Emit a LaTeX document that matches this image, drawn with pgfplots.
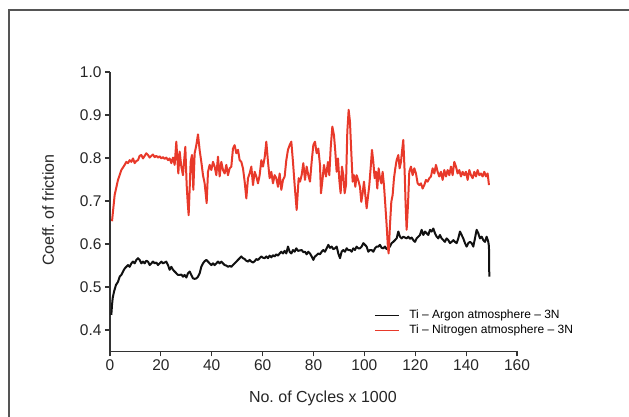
\documentclass[border=0pt]{standalone}
\usepackage{fontspec}
\setmainfont{Liberation Sans}
\usepackage{pgfplots}
\pgfplotsset{compat=1.18}
\definecolor{cAr}{HTML}{111111}
\definecolor{cN}{HTML}{E8392A}
\definecolor{cAx}{HTML}{333333}
\definecolor{cFrame}{HTML}{555555}

\begin{document}
\begin{tikzpicture}[x=1pt,y=1pt]
\useasboundingbox (0,0) rectangle (629,417);
\draw[cFrame, line width=1.5pt] (9,0) -- (9,407) -- (629,407);
\begin{axis}[at={(110pt,65.5pt)}, anchor=south west, scale only axis,
    width=407pt, height=279.5pt,
    xmin=0, xmax=160, ymin=0.35, ymax=1.0,
    axis x line=bottom, axis y line=left,
    axis line style={cAx, line width=1.1pt, -},
    xtick={0,20,40,60,80,100,120,140,160},
    ytick={0.4,0.5,0.6,0.7,0.8,0.9,1.0},
    tick align=outside, major tick length=5pt,
    tick style={cAx, line width=1.1pt},
    tick label style={font=\fontsize{15.5}{18}\selectfont, text=black!85},
    /pgf/number format/assume math mode=true,
    yticklabel style={/pgf/number format/.cd, fixed, fixed zerofill, precision=1},
    xlabel={No.\ of Cycles x 1000}, ylabel={Coeff.\ of friction},
    label style={font=\fontsize{16}{19}\selectfont, text=black!85},
    xlabel style={at={(axis description cs:0.523,-0.166)}, anchor=center},
    ylabel style={at={(axis description cs:-0.152,0.506)}, anchor=center},
    legend style={at={(axis description cs:0.649,0.152)}, anchor=north west,
        draw=none, fill=none, font=\fontsize{12}{14}\selectfont, inner sep=0pt,
        row sep=3pt, nodes={inner ysep=0pt, inner xsep=0pt, text height=9pt, text depth=3pt},
        /tikz/every odd column/.append style={column sep=10pt}},
    legend cell align=left,
    legend image code/.code={\draw[#1, line width=1pt] (0pt,0pt) -- (24pt,0pt);},
]
% Ti - Argon
\addplot[cAr, line width=2pt, line join=round] coordinates {
(0.52,0.435)(0.79,0.458)(1.05,0.474)(1.57,0.489)(2.36,0.505)(3.14,0.512)(3.80,0.524)(4.46,0.528)
(5.11,0.536)(5.77,0.543)(6.42,0.547)(7.08,0.551)(7.73,0.547)(8.39,0.555)(9.04,0.559)(9.70,0.555)
(10.35,0.563)(11.01,0.567)(11.66,0.563)(12.32,0.555)(12.97,0.559)(13.63,0.555)(14.28,0.561)(14.94,0.559)
(15.59,0.551)(16.25,0.555)(16.90,0.559)(17.56,0.555)(18.21,0.557)(18.87,0.551)(19.52,0.555)(20.18,0.559)
(20.83,0.555)(21.49,0.557)(22.14,0.559)(22.80,0.551)(23.45,0.540)(24.11,0.547)(24.76,0.540)(25.42,0.536)
(26.07,0.532)(26.73,0.528)(27.38,0.528)(28.04,0.529)(28.69,0.524)(29.35,0.528)(30.01,0.522)(30.66,0.532)
(31.32,0.536)(31.97,0.528)(32.63,0.520)(33.28,0.519)(33.94,0.520)(34.59,0.524)(35.25,0.532)(35.90,0.547)
(36.56,0.555)(37.21,0.560)(37.87,0.563)(38.52,0.559)(39.18,0.555)(39.83,0.551)(40.49,0.555)(41.14,0.551)
(41.80,0.555)(42.45,0.559)(43.11,0.555)(43.76,0.559)(44.42,0.555)(45.07,0.551)(45.73,0.550)(46.38,0.547)
(47.04,0.549)(47.69,0.547)(48.35,0.551)(49.00,0.555)(49.66,0.559)(50.31,0.563)(50.97,0.567)(51.62,0.571)
(52.28,0.567)(52.94,0.565)(53.59,0.561)(54.25,0.559)(54.90,0.563)(55.56,0.559)(56.21,0.557)(56.87,0.560)
(57.52,0.565)(58.18,0.563)(58.83,0.567)(59.49,0.571)(60.14,0.568)(60.80,0.567)(61.45,0.571)(62.11,0.567)
(62.76,0.573)(63.42,0.569)(64.07,0.574)(64.73,0.571)(65.38,0.576)(66.04,0.573)(66.69,0.578)(67.35,0.582)
(68.00,0.578)(68.66,0.584)(69.31,0.578)(69.97,0.594)(70.62,0.582)(71.28,0.578)(71.93,0.586)(72.59,0.582)
(73.24,0.590)(73.90,0.584)(75.34,0.586)(76.00,0.581)(76.65,0.582)(77.31,0.576)(77.96,0.582)(78.62,0.578)
(79.27,0.571)(79.93,0.563)(80.58,0.571)(81.24,0.574)(81.89,0.578)(82.55,0.576)(83.21,0.582)(83.86,0.586)
(84.52,0.582)(85.17,0.590)(85.83,0.598)(86.48,0.591)(87.14,0.594)(87.79,0.588)(88.45,0.590)(89.10,0.594)
(89.76,0.578)(90.41,0.567)(91.07,0.582)(91.72,0.586)(92.38,0.582)(93.03,0.590)(93.69,0.586)(94.34,0.586)
(95.00,0.582)(95.65,0.590)(96.31,0.586)(96.96,0.594)(97.62,0.590)(98.27,0.590)(98.93,0.594)(99.58,0.602)
(100.24,0.598)(100.89,0.594)(101.55,0.582)(102.20,0.586)(102.86,0.586)(103.51,0.582)(104.17,0.590)(104.82,0.594)
(105.48,0.594)(106.13,0.598)(106.79,0.591)(107.44,0.590)(108.10,0.594)(108.75,0.588)(109.41,0.590)(110.06,0.594)
(110.72,0.602)(111.37,0.605)(112.03,0.609)(112.68,0.613)(113.34,0.629)(113.99,0.617)(114.65,0.613)(115.30,0.617)
(115.96,0.615)(116.61,0.613)(117.27,0.617)(117.92,0.612)(118.58,0.615)(119.23,0.609)(119.89,0.605)(120.55,0.613)
(121.20,0.617)(121.86,0.621)(122.51,0.633)(123.17,0.621)(123.82,0.629)(124.48,0.625)(125.13,0.621)(125.79,0.633)
(126.44,0.629)(127.10,0.636)(127.75,0.625)(128.41,0.617)(129.06,0.613)(129.72,0.621)(130.37,0.613)(131.03,0.609)
(131.68,0.605)(132.34,0.613)(132.99,0.609)(133.65,0.602)(134.30,0.605)(134.96,0.609)(135.61,0.605)(136.27,0.602)
(136.92,0.613)(137.58,0.629)(138.23,0.621)(138.89,0.613)(139.54,0.602)(140.20,0.594)(140.85,0.602)(141.51,0.605)
(142.16,0.602)(142.82,0.594)(143.47,0.613)(144.13,0.633)(144.78,0.625)(145.44,0.613)(146.10,0.617)(146.75,0.609)
(147.41,0.605)(148.06,0.617)(148.72,0.605)(148.98,0.594)(149.11,0.524)
};
\addlegendentry{Ti – Argon atmosphere – 3N}
% Ti - Nitrogen
\addplot[cN, line width=2pt, line join=round] coordinates {
(0.79,0.653)(1.83,0.714)(3.14,0.749)(4.46,0.772)(5.77,0.784)(6.42,0.791)(7.08,0.788)(7.73,0.795)
(8.39,0.791)(9.04,0.799)(9.70,0.788)(10.35,0.793)(11.01,0.795)(11.66,0.805)(12.32,0.807)(12.97,0.799)
(13.63,0.805)(14.28,0.811)(14.94,0.807)(15.59,0.801)(16.25,0.805)(16.90,0.808)(17.56,0.802)(18.21,0.805)
(18.87,0.801)(19.52,0.804)(20.18,0.799)(20.83,0.802)(21.49,0.798)(22.14,0.801)(22.80,0.795)(23.45,0.799)
(24.11,0.788)(24.76,0.801)(25.42,0.784)(26.07,0.838)(26.47,0.799)(26.86,0.764)(27.38,0.815)(28.04,0.780)
(28.69,0.760)(29.22,0.799)(29.61,0.826)(30.14,0.737)(30.53,0.698)(30.92,0.667)(31.32,0.729)(31.71,0.791)
(32.23,0.807)(32.76,0.726)(33.28,0.811)(33.94,0.830)(34.59,0.855)(35.25,0.818)(35.90,0.791)(36.56,0.760)
(37.21,0.741)(38.00,0.695)(38.52,0.768)(39.18,0.784)(39.83,0.772)(40.49,0.791)(41.14,0.780)(41.80,0.760)
(42.45,0.803)(43.11,0.757)(43.76,0.791)(44.42,0.772)(45.07,0.764)(45.73,0.784)(46.38,0.760)(47.04,0.776)
(47.69,0.780)(48.35,0.822)(49.00,0.830)(49.66,0.811)(50.31,0.819)(50.97,0.795)(51.62,0.791)(52.28,0.776)
(52.94,0.745)(53.59,0.706)(54.25,0.753)(54.90,0.764)(55.56,0.780)(56.21,0.737)(56.87,0.768)(57.52,0.757)
(58.18,0.741)(58.83,0.760)(59.49,0.795)(60.14,0.780)(60.80,0.801)(61.45,0.838)(62.11,0.791)(62.76,0.753)
(63.42,0.768)(64.07,0.741)(64.73,0.760)(65.38,0.753)(66.04,0.733)(66.69,0.764)(67.35,0.726)(68.00,0.749)
(68.66,0.757)(69.31,0.795)(69.97,0.819)(70.62,0.830)(71.28,0.838)(71.93,0.791)(72.59,0.737)(73.38,0.679)
(74.16,0.753)(74.69,0.745)(75.34,0.760)(76.00,0.788)(76.65,0.749)(77.31,0.780)(77.96,0.760)(78.62,0.745)
(79.27,0.791)(79.93,0.830)(80.58,0.838)(81.24,0.811)(81.89,0.822)(82.55,0.784)(82.94,0.718)(83.60,0.753)
(84.12,0.784)(84.91,0.757)(85.69,0.791)(86.22,0.760)(86.74,0.822)(87.40,0.873)(88.05,0.853)(88.57,0.815)
(89.10,0.768)(89.62,0.799)(90.15,0.749)(90.67,0.718)(91.19,0.780)(91.72,0.760)(92.24,0.718)(92.77,0.737)
(93.29,0.861)(93.82,0.912)(94.34,0.884)(94.73,0.830)(95.39,0.745)(95.91,0.760)(96.44,0.733)(96.96,0.760)
(97.75,0.745)(98.27,0.733)(98.79,0.698)(99.32,0.718)(99.84,0.745)(100.37,0.714)(100.89,0.683)(101.42,0.710)
(101.94,0.737)(102.46,0.776)(102.99,0.819)(103.51,0.791)(104.04,0.753)(104.56,0.768)(105.08,0.729)(105.61,0.776)
(106.13,0.753)(106.66,0.741)(107.18,0.768)(107.70,0.737)(108.23,0.691)(108.75,0.644)(109.28,0.590)(109.54,0.578)
(110.06,0.644)(110.59,0.698)(111.11,0.714)(111.64,0.753)(112.16,0.776)(112.68,0.795)(113.34,0.807)(113.86,0.776)
(114.39,0.791)(114.78,0.815)(115.30,0.842)(115.83,0.768)(116.22,0.691)(116.61,0.633)(117.14,0.691)(117.66,0.768)
(118.32,0.780)(118.97,0.760)(119.63,0.776)(120.28,0.764)(120.94,0.741)(121.59,0.737)(122.25,0.741)(122.90,0.729)
(123.56,0.737)(124.21,0.749)(124.87,0.745)(125.52,0.753)(126.18,0.757)(126.83,0.776)(127.49,0.764)(128.14,0.784)
(128.80,0.768)(129.45,0.757)(130.11,0.768)(130.77,0.749)(131.42,0.772)(132.08,0.757)(132.73,0.772)(133.39,0.760)
(134.04,0.780)(134.70,0.760)(135.35,0.791)(136.01,0.780)(136.66,0.764)(137.32,0.772)(137.97,0.757)(138.63,0.768)
(139.28,0.760)(139.94,0.768)(140.59,0.749)(141.25,0.772)(141.90,0.760)(142.56,0.753)(143.21,0.768)(143.87,0.757)
(144.52,0.772)(145.18,0.760)(145.83,0.764)(146.49,0.757)(147.14,0.768)(147.80,0.757)(148.45,0.764)(148.98,0.737)
};
\addlegendentry{Ti – Nitrogen atmosphere – 3N}
\end{axis}
\end{tikzpicture}
\end{document}
